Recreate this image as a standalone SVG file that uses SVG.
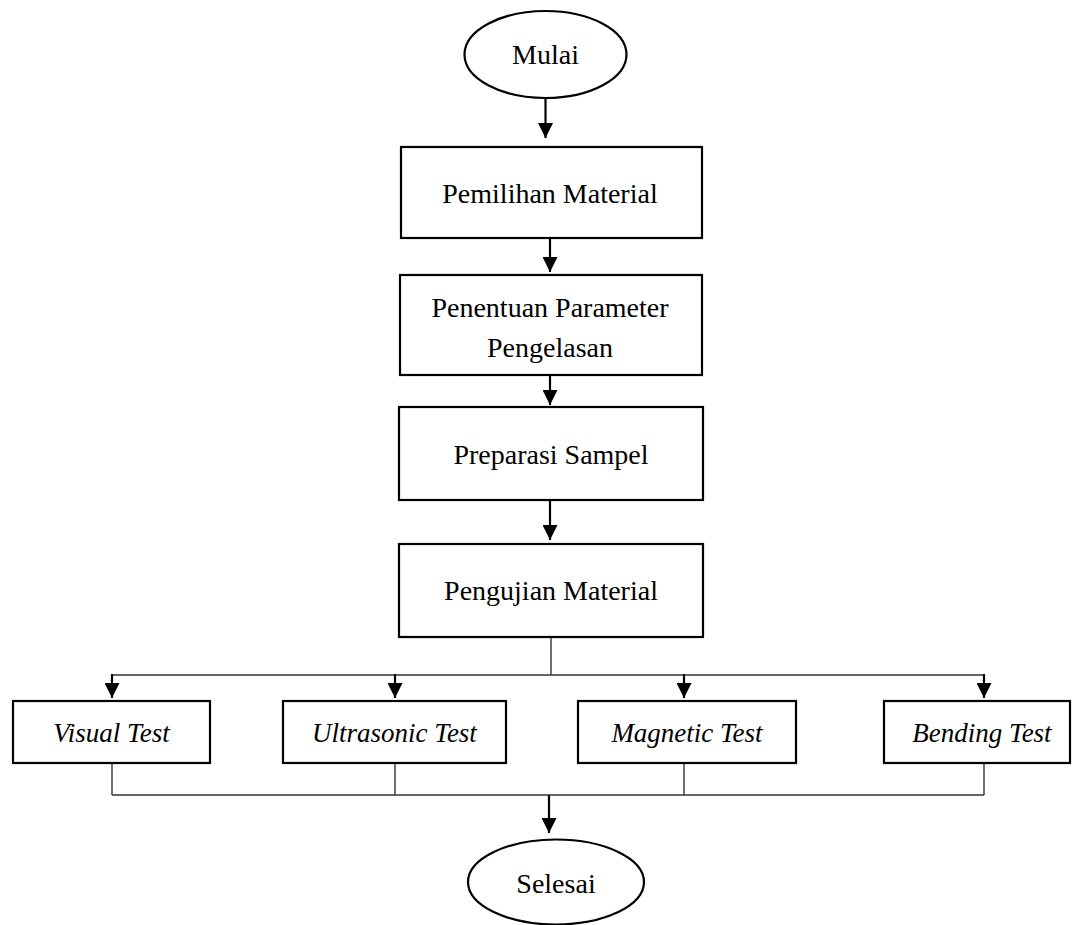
<svg xmlns="http://www.w3.org/2000/svg" width="1072" height="925" viewBox="0 0 1072 925">
<style>
.box{fill:#fff;stroke:#000;stroke-width:2.2}
.t{font-family:"Liberation Serif","Times New Roman",serif;font-size:28px;fill:#000;text-anchor:middle}
.i{font-style:italic;font-size:27px}
.arr{fill:none;stroke:#000;stroke-width:2.2}
.thin{fill:none;stroke:#333;stroke-width:1.4}
</style>
<defs>
<marker id="ah" markerWidth="15" markerHeight="15" viewBox="0 0 15 15" refX="15" refY="7.5" orient="auto" markerUnits="userSpaceOnUse">
<path d="M0,0 L15,7.5 L0,15 Z" fill="#000"/>
</marker>
</defs>
<rect width="1072" height="925" fill="#fff"/>
<g id="connectors">
<line class="arr" x1="545.5" y1="98" x2="545.5" y2="138" marker-end="url(#ah)"/>
<line class="arr" x1="550" y1="236" x2="550" y2="272" marker-end="url(#ah)"/>
<line class="arr" x1="550" y1="375" x2="550" y2="405" marker-end="url(#ah)"/>
<line class="arr" x1="550" y1="500" x2="550" y2="540" marker-end="url(#ah)"/>
<line class="thin" x1="551" y1="638" x2="551" y2="675"/>
<line class="thin" x1="112" y1="675" x2="984" y2="675"/>
<line class="arr" x1="112" y1="674" x2="112" y2="698" marker-end="url(#ah)"/>
<line class="arr" x1="395" y1="674" x2="395" y2="698" marker-end="url(#ah)"/>
<line class="arr" x1="684" y1="674" x2="684" y2="698" marker-end="url(#ah)"/>
<line class="arr" x1="984" y1="674" x2="984" y2="698" marker-end="url(#ah)"/>
<line class="thin" x1="112" y1="764" x2="112" y2="795"/>
<line class="thin" x1="395" y1="764" x2="395" y2="795"/>
<line class="thin" x1="684" y1="764" x2="684" y2="795"/>
<line class="thin" x1="984" y1="764" x2="984" y2="795"/>
<line class="thin" x1="112" y1="795" x2="984" y2="795"/>
<line class="arr" x1="549" y1="795" x2="549" y2="833" marker-end="url(#ah)"/>
</g>
<g id="mulai">
<ellipse class="box" cx="545.5" cy="54.5" rx="81" ry="43.5"/>
<text class="t" x="545.5" y="64">Mulai</text>
</g>
<g id="pemilihan">
<rect class="box" x="401" y="147" width="301" height="91"/>
<text class="t" x="550" y="203">Pemilihan Material</text>
</g>
<g id="penentuan">
<rect class="box" x="400" y="275" width="302" height="100"/>
<text class="t" x="550" y="317">Penentuan Parameter</text>
<text class="t" x="550" y="357">Pengelasan</text>
</g>
<g id="preparasi">
<rect class="box" x="399" y="407" width="304" height="93"/>
<text class="t" x="551" y="464">Preparasi Sampel</text>
</g>
<g id="pengujian">
<rect class="box" x="399" y="544" width="304" height="93"/>
<text class="t" x="551" y="600">Pengujian Material</text>
</g>
<g id="visual">
<rect class="box" x="13" y="701" width="197" height="62"/>
<text class="t i" x="111.5" y="742">Visual Test</text>
</g>
<g id="ultrasonic">
<rect class="box" x="283" y="701" width="223" height="62"/>
<text class="t i" x="394.5" y="742">Ultrasonic Test</text>
</g>
<g id="magnetic">
<rect class="box" x="578" y="701" width="218" height="62"/>
<text class="t i" x="687" y="742">Magnetic Test</text>
</g>
<g id="bending">
<rect class="box" x="884" y="701" width="186" height="62"/>
<text class="t i" x="982" y="742">Bending Test</text>
</g>
<g id="selesai">
<ellipse class="box" cx="556" cy="882" rx="88" ry="42.5"/>
<text class="t" x="556" y="893">Selesai</text>
</g>
</svg>
